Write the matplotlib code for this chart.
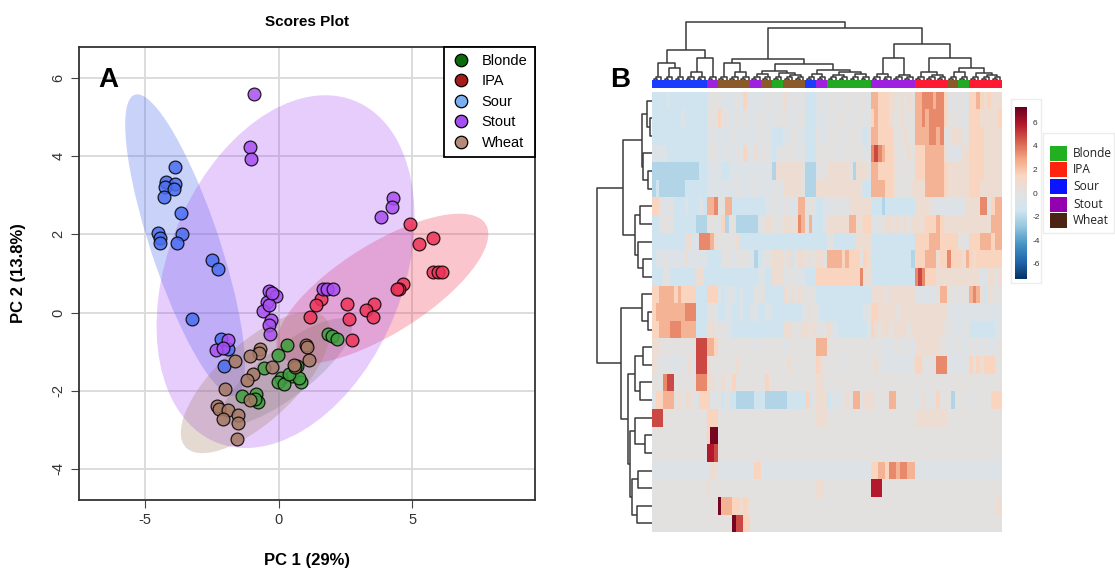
import numpy as np
import matplotlib
matplotlib.use("Agg")
import matplotlib.pyplot as plt
from matplotlib.patches import Ellipse, Rectangle
from matplotlib.colors import LinearSegmentedColormap, ListedColormap, Normalize
from matplotlib.lines import Line2D

plt.rcParams["font.family"] = ["Liberation Sans", "DejaVu Sans"]
plt.rcParams["axes.unicode_minus"] = False

W, H = 1115, 571


def fx(px):
    return px / W


def fy(py):
    return 1 - py / H


groups = ["Blonde", "IPA", "Sour", "Stout", "Wheat"]

# ---------------- Panel A: PCA scores ----------------
blonde_pc1 = [1.85, 2.01, 2.18, 0.32, -0.04, -0.53, 0.69, 0.49, 0.09, -0.04,
              0.22, 0.82, 0.75, -1.36, -0.83, -0.77, 0.38, -0.87]
blonde_pc2 = [-0.54, -0.60, -0.67, -0.84, -1.10, -1.41, -1.38, -1.63, -1.67, -1.77,
              -1.83, -1.77, -1.67, -2.14, -2.09, -2.28, -1.58, -2.22]
ipa_pc1 = [4.91, 5.24, 5.80, 5.79, 5.96, 6.13, 4.64, 4.49, 4.42, 2.57,
           3.59, 3.28, 3.52, 2.64, 2.76, 1.57, 1.41, 1.17]
ipa_pc2 = [2.26, 1.75, 1.91, 1.04, 1.04, 1.04, 0.74, 0.60, 0.59, 0.21,
           0.21, 0.07, -0.11, -0.16, -0.70, 0.35, 0.19, -0.12]
sour_pc1 = [-3.89, -4.23, -3.87, -4.26, -3.90, -4.29, -3.65, -4.50, -3.63, -4.46,
            -4.46, -3.80, -2.51, -2.26, -3.23, -2.15, -1.89, -2.04]
sour_pc2 = [3.72, 3.35, 3.30, 3.21, 3.16, 2.95, 2.56, 2.04, 2.00, 1.91,
            1.78, 1.78, 1.35, 1.11, -0.16, -0.67, -0.93, -1.38]
stout_pc1 = [-0.92, -1.09, -1.02, 4.29, 4.25, 3.85, -0.37, -0.11, -0.44, -0.57, -0.37,
             -0.30, -0.37, -0.33, 1.68, 1.81, 2.04, -2.35, -1.91, -2.08, -0.24]
stout_pc2 = [5.60, 4.23, 3.93, 2.93, 2.70, 2.44, 0.54, 0.42, 0.28, 0.03, 0.19,
             -0.19, -0.31, -0.54, 0.59, 0.60, 0.59, -0.95, -0.70, -0.91, 0.51]
wheat_pc1 = [-0.70, -0.73, -1.09, -1.65, -0.24, 1.02, 1.08, 1.15, 0.62, -0.96, -1.19,
             -1.99, -1.07, -2.31, -2.22, -1.89, -2.09, -1.52, -1.52, -1.56, 0.59]
wheat_pc2 = [-0.93, -1.04, -1.12, -1.25, -1.39, -0.84, -0.88, -1.21, -1.39, -1.58, -1.72,
             -1.95, -2.23, -2.40, -2.46, -2.49, -2.72, -2.63, -2.83, -3.23, -1.35]

scores = {
    "Blonde": (blonde_pc1, blonde_pc2),
    "IPA": (ipa_pc1, ipa_pc2),
    "Sour": (sour_pc1, sour_pc2),
    "Stout": (stout_pc1, stout_pc2),
    "Wheat": (wheat_pc1, wheat_pc2),
}

point_colors = {"Blonde": "#3f9f3f", "IPA": "#ee3358", "Sour": "#4a6ef0",
                "Stout": "#a94ff2", "Wheat": "#a57a65"}
ellipse_colors = {"Blonde": "#6f8f5f", "IPA": "#f0304a", "Sour": "#3f63f0",
                  "Stout": "#a64df5", "Wheat": "#a07a5a"}
legend_a_colors = {"Blonde": "#0b6b0b", "IPA": "#a51c1c", "Sour": "#79aef2",
                   "Stout": "#a64ff0", "Wheat": "#b58a78"}

value_codes = {"b": -2.2, "y": -1.5, "z": -0.5, "0": 0.0, "1": 0.7, "2": 1.5,
               "3": 2.5, "4": 3.5, "5": 4.8, "6": 5.8, "7": 7.0}

heat_rows = [
    "yyy yzy yyy yyy yyy z00 0zz zz0 z2z zzz z0z 0z0 1z0 0z0 yyy z0z 000 z00 0z0 00z 332 221 101 010 334 443 442 z0z 00z 223 212 111",
    "yyy yyy yyz yyy yyy 000 200 zz0 z0z zz0 0z0 z00 0z0 z00 yyy zzz 0z0 000 z00 0z0 232 221 001 000 334 344 442 000 0z0 222 111 112",
    "yyy yyy yyy yyy yyy z0z zzz z0z zzz zz0 z0z yyy zz0 0zz yyy 0zz 000 0z0 000 zy0 332 222 000 100 333 344 340 011 100 222 211 111",
    "zzz zyy yyy yyy yyy 000 zz0 zz0 z2z z1z 00z yz0 000 0z0 yyy 000 000 z00 000 0z0 454 322 100 010 222 333 331 zzz z11 222 211 111",
    "bbb bbb bbb bbb byy zzz zyy zzz zzz zzz zz0 b11 111 110 bbb z00 111 111 0b1 110 332 222 100 000 222 333 332 111 111 222 211 111",
    "byb bbb bbb yyy yyy zzz zzz zz0 zzz z0z zzz z0z 111 110 bbb 111 111 111 111 0yy 333 322 100 001 111 333 332 111 111 222 111 111",
    "220 zz0 yyy zyy yzy 334 003 3yy yyy yyy yz0 z0z 0zz z33 000 yyz zz0 z0z 111 111 yyy byy yyy yyy 111 100 zzz zzz zz1 111 440 233",
    "yy0 000 yyy yyy bbb 000 z2b 00b bbb bbz 011 000 110 143 03y yy0 111 111 331 122 zz0 011 010 101 111 222 321 111 111 111 111 333",
    "yyy yyy yyy 11z z44 431 000 001 yyy yyy yyy yyy yyy yyy yyy yyy 00y yyy yy1 111 yyy yyy yyy yyy 222 233 322 222 00z 222 333 233",
    "yzz 0zz zzz 1zz zzz yyy y00 0z0 00z zby z00 111 01y 011 010 110 333 323 222 021 yyy yyy yyy yyb 222 333 122 422 213 212 222 222",
    "yyy 00y yyy yyy 11y yyy yyy yyy yyy yyz zyy 111 z0z 0zz yyy 222 222 222 222 411 yyy yyy yyy yyy 454 222 111 111 111 111 zz1 1z1",
    "223 333 232 222 yyy 222 zyz zzy zyy y00 0yy yyy 101 010 000 yyy yyy yyy yyy yyy 111 101 111 111 zzz zzz 033 000 000 343 1y1 000",
    "233 333 333 444 yyy 000 yyz zyy zyy zzy yzz yyy yyy yyz 010 0yy yyy yyy yyy yz0 221 111 101 111 111 111 111 zzz zzz zzz zzz zzz",
    "223 334 443 333 yyy 110 00z zyy yyy yyy yyy yyy 110 001 101 000 1zz yyy yyy yyz 210 110 111 101 111 111 110 0zz zz0 yyy yyy yzz",
    "110 000 000 000 555 332 000 z00 000 0z0 000 000 z00 000 000 333 000 000 000 000 000 zzz 000 z0z 111 111 100 z0z 0zz 0z0 z0z z00",
    "100 z0z zz0 z1z 555 100 000 001 000 000 000 000 010 000 000 210 000 0z0 000 000 010 zzz zzz zz0 220 000 444 zzz zz0 202 122 200",
    "000 455 000 000 444 110 010 020 000 000 020 000 000 000 000 110 000 000 000 000 000 000 000 000 000 000 000 000 000 000 000 000",
    "z22 333 010 110 z22 2zz 0y0 yyb bbb byy ybb bbb byy yyy 2y0 111 yzz z01 033 011 100 003 300 000 zz1 z0z 200 0b0 000 z00 000 222",
    "555 000 000 000 000 222 000 000 000 000 000 000 000 000 000 111 000 000 000 000 000 000 000 000 111 111 111 000 000 000 000 000",
    "000 000 000 000 000 277 000 000 000 000 000 000 000 000 000 000 000 000 000 000 000 000 000 000 000 000 000 000 000 000 000 000",
    "000 000 000 000 000 665 000 000 000 000 000 000 000 000 000 000 000 000 000 000 000 000 000 000 000 000 000 000 000 000 000 000",
    "zzz zzz zzz zzz zzz z11 zzz zzz zzz z22 zzz zzz zzz zzz zzz zzz zzz zzz zzz zzz 223 324 434 433 zzz zzz zzz zzz zzz zzz zzz zzz",
    "000 000 000 000 000 100 000 000 000 000 000 000 000 000 000 110 000 000 000 000 666 000 000 000 000 000 000 000 000 000 000 000",
    "000 000 000 000 000 000 733 322 121 000 000 000 000 000 000 000 000 000 000 000 000 000 000 000 000 000 000 000 000 000 000 011",
    "000 000 000 000 000 000 000 075 522 000 000 000 000 000 000 000 000 000 000 000 000 000 000 000 000 000 000 000 000 000 000 000",
]

# class of each triplicate sample (column order of the heatmap)
triplet_class = ["Sour", "Sour", "Sour", "Sour", "Sour", "Stout", "Wheat", "Wheat",
                 "Wheat", "Stout", "Wheat", "Blonde", "Wheat", "Wheat", "Sour", "Stout",
                 "Blonde", "Blonde", "Blonde", "Blonde", "Stout", "Stout", "Stout", "Stout",
                 "IPA", "IPA", "IPA", "Wheat", "Blonde", "IPA", "IPA", "IPA"]
bar_colors = {"Blonde": "#22aa22", "IPA": "#ff1a33", "Sour": "#1a3cff",
              "Stout": "#a020e0", "Wheat": "#8b5a2b"}
legend_b_colors = {"Blonde": "#22b022", "IPA": "#ff2410", "Sour": "#0a14ff",
                   "Stout": "#9400b0", "Wheat": "#4b2414"}

# dendrograms: (merge height, left, right); leaves are triplets ("g") or rows (int)
col_tree = (58,
            (30, (17, "g0", (12, "g1", "g2")), (22, (8, "g3", "g4"), "g5")),
            (52,
             (21,
              (17, "g6", (8, "g7", "g8")),
              (16,
               (9, (6, "g9", "g10"), (7, "g11", (5, "g12", "g13"))),
               (10, (6, "g14", "g15"), (8, (5, "g16", "g17"), (6, "g18", "g19"))))),
             (36,
              (22, (6, "g20", "g21"), (5, "g22", "g23")),
              (22, (8, "g24", (5, "g25", "g26")),
               (12, (8, "g27", "g28"), (7, "g29", (5, "g30", "g31")))))))
row_tree = (55,
            (29,
             (10, (5, 0, (2, 1, 2)), (9, 3, (4, 4, 5))),
             (17, (12, 6, 7), (14, 8, (9, 9, 10)))),
            (31,
             (10, 11, (4, 12, 13)),
             (24,
              (17, (9, 14, 15), (12, 16, 17)),
              (22, (17, 18, (7, 19, 20)), (20, (14, 21, 22), (15, 23, 24))))))
triplet_heights = (1.5, 3.0)

# ======================= figure =======================
fig = plt.figure(figsize=(W / 100, H / 100), dpi=100)

# ---- Panel A ----
ax = fig.add_axes([fx(78.6), fy(500), (534.7 - 78.6) / W, (500 - 46.5) / H])
ax.set_xlim(-7.49, 9.59)
ax.set_ylim(-4.8, 6.81)
chi = np.sqrt(5.991)
for g in groups:
    x = np.array(scores[g][0])
    y = np.array(scores[g][1])
    vals, vecs = np.linalg.eigh(np.cov(x, y))
    ang = np.degrees(np.arctan2(vecs[1, 1], vecs[0, 1]))
    ax.add_patch(Ellipse((x.mean(), y.mean()), 2 * chi * np.sqrt(vals[1]),
                         2 * chi * np.sqrt(vals[0]), angle=ang,
                         facecolor=ellipse_colors[g], alpha=0.28, edgecolor="none", zorder=1))
for g in groups:
    ax.scatter(scores[g][0], scores[g][1], s=85, c=point_colors[g], edgecolors="black",
               linewidths=0.9, alpha=0.85, zorder=3)

ax.set_xticks([-5, 0, 5])
ax.set_yticks([-4, -2, 0, 2, 4, 6])
ax.grid(color="#d9d9d9", lw=1.3)
ax.set_axisbelow(True)
ax.tick_params(direction="out", length=6, width=0.8, color="#444444",
               labelsize=10.5, labelcolor="#333333")
ax.tick_params(axis="y", labelrotation=90)
for t in ax.get_yticklabels():
    t.set_va("center")
for s in ax.spines.values():
    s.set_linewidth(1.3)
    s.set_color("#333333")

handles = [Line2D([], [], marker="o", ls="none", markersize=9, markerfacecolor=legend_a_colors[g],
                  markeredgecolor="black", markeredgewidth=0.9, label=g) for g in groups]
leg = ax.legend(handles=handles, loc="upper right", borderaxespad=0, fontsize=10.5,
                frameon=True, fancybox=False, framealpha=1, edgecolor="black",
                labelspacing=0.45, handletextpad=0.7, borderpad=0.5, handlelength=1.4)
leg.get_frame().set_linewidth(1.3)

fig.text(fx(306.6), fy(22), "Scores Plot", ha="center", va="center", fontsize=11, fontweight="bold")
fig.text(fx(306.6), fy(561), "PC 1 (29%)", ha="center", va="center", fontsize=12, fontweight="bold")
fig.text(fx(18.6), fy(273), "PC 2 (13.8%)", ha="center", va="center", rotation=90,
         fontsize=12, fontweight="bold")
fig.text(fx(108.5), fy(80.5), "A", ha="center", va="center", fontsize=20, fontweight="bold")

# ---- Panel B ----
cmap = LinearSegmentedColormap.from_list("rdbu_gray", [
    (0.0, "#053061"), (0.1, "#2166ac"), (0.2, "#4393c3"), (0.3, "#92c5de"),
    (0.4, "#d1e5f0"), (0.5, "#e2e1e1"), (0.6, "#f9d6c2"), (0.7, "#f4a582"),
    (0.8, "#d6604d"), (0.9, "#b2182b"), (1.0, "#67001f")])
vlim = 7.3

data = np.array([[value_codes[c] for c in r.replace(" ", "")] for r in heat_rows])
n_rows, n_cols = data.shape

hm = fig.add_axes([fx(652), fy(532.3), 350 / W, (532.3 - 91.7) / H])
hm.pcolormesh(data, cmap=cmap, vmin=-vlim, vmax=vlim)
hm.set_xlim(0, n_cols)
hm.set_ylim(n_rows, 0)
hm.axis("off")

# class colour strip
col_class = [c for c in triplet_class for _ in range(3)]
strip = fig.add_axes([fx(652), fy(88.3), 350 / W, 8.3 / H])
strip.pcolormesh([[groups.index(c) for c in col_class]],
                 cmap=ListedColormap([bar_colors[g] for g in groups]), vmin=-0.5, vmax=4.5)
strip.set_xlim(0, n_cols)
strip.axis("off")


def leaf_tree(node):
    if isinstance(node, str):
        t = int(node[1:])
        return (triplet_heights[1], (triplet_heights[0], 3 * t, 3 * t + 1), 3 * t + 2)
    if isinstance(node, int):
        return node
    return (node[0], leaf_tree(node[1]), leaf_tree(node[2]))


def draw_tree(a, node, horizontal=False):
    if isinstance(node, int):
        return node + 0.5, 0.0
    h, left, right = node
    p1, h1 = draw_tree(a, left, horizontal)
    p2, h2 = draw_tree(a, right, horizontal)
    pos = [p1, p1, p2, p2]
    hts = [h1, h, h, h2]
    if horizontal:
        a.plot(hts, pos, color="#3a3a3a", lw=1.1, solid_capstyle="butt")
    else:
        a.plot(pos, hts, color="#3a3a3a", lw=1.1, solid_capstyle="butt")
    return (p1 + p2) / 2, h


cd = fig.add_axes([fx(652), fy(80), 350 / W, 62 / H])
draw_tree(cd, leaf_tree(col_tree))
cd.set_xlim(0, n_cols)
cd.set_ylim(0, 62)
cd.axis("off")

rd = fig.add_axes([fx(594), fy(532.3), 58 / W, (532.3 - 91.7) / H])
draw_tree(rd, row_tree, horizontal=True)
rd.set_xlim(58, 0)
rd.set_ylim(n_rows, 0)
rd.axis("off")

# colour key
fig.patches.append(Rectangle((fx(1011), fy(283)), 30 / W, 184 / H, transform=fig.transFigure,
                             facecolor="none", edgecolor="#ececec", lw=1))
cax = fig.add_axes([fx(1015), fy(279.3), 12.3 / W, 172.6 / H])
sm = plt.cm.ScalarMappable(norm=Normalize(-vlim, vlim), cmap=cmap)
cbar = fig.colorbar(sm, cax=cax, ticks=[-6, -4, -2, 0, 2, 4, 6])
cbar.outline.set_visible(False)
cax.tick_params(length=0, labelsize=6, pad=4, labelcolor="#333333")

# class legend
fig.patches.append(Rectangle((fx(1043), fy(233)), 71 / W, 100 / H, transform=fig.transFigure,
                             facecolor="none", edgecolor="#ececec", lw=1))
legend_y = [153.3, 169.6, 186.0, 204.0, 220.7]
for g, yy in zip(groups, legend_y):
    fig.patches.append(Rectangle((fx(1050), fy(yy + 7.5)), 16.5 / W, 15 / H,
                                 transform=fig.transFigure, facecolor=legend_b_colors[g],
                                 edgecolor="none"))
    fig.text(fx(1073), fy(yy), g, ha="left", va="center", fontsize=8.6,
             family=["Open Sans", "DejaVu Sans"], color="#222222")

fig.text(fx(620.5), fy(80), "B", ha="center", va="center", fontsize=20, fontweight="bold")

fig.savefig("out.png", dpi=100)
plt.close(fig)
